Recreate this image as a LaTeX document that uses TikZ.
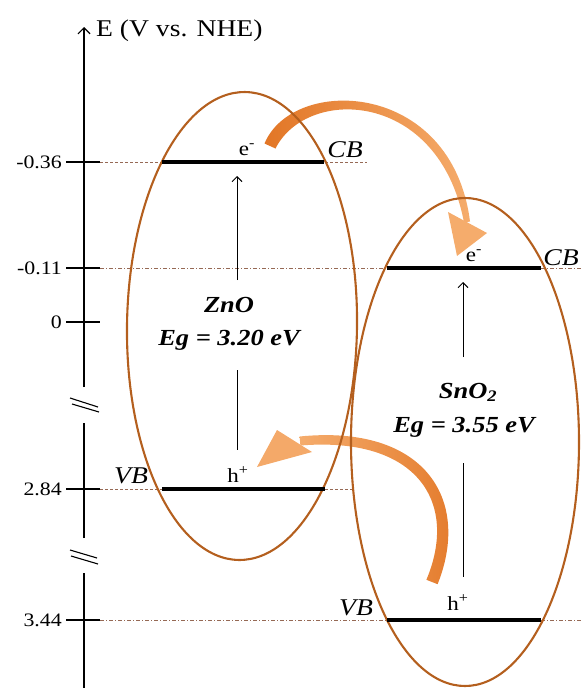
\documentclass[tikz,border=0pt]{standalone}
\usepackage{fontspec}
\setmainfont{Liberation Serif}[FakeStretch=1.15]
\usetikzlibrary{arrows.meta,shapes.geometric}
\definecolor{ellc}{RGB}{180,95,30}
\definecolor{lvl}{RGB}{150,105,85}
\definecolor{ordark}{RGB}{226,118,38}
\definecolor{orlight}{RGB}{245,172,108}
\begin{document}
\begin{tikzpicture}[x=1pt,y=-1pt,
  axisline/.style={line width=1.2pt},
  tickmark/.style={line width=1.1pt},
  breakmark/.style={line width=1.1pt},
  levelband/.style={line width=3.4pt},
  guide/.style={lvl,line width=0.9pt,dash pattern=on 3pt off 2pt},
  guidedot/.style={lvl,line width=0.9pt,dash pattern=on 4pt off 2pt on 1pt off 2pt},
  semi/.style={draw=ellc,line width=2.1pt,ellipse,inner sep=0pt,outer sep=0pt},
  vtrans/.style={line width=1pt},
  vtip/.style={line width=1pt,-{Straight Barb[length=5pt,width=10pt]}},
  ticklbl/.style={font=\fontsize{19}{22}\selectfont,inner sep=0pt,anchor=east},
  bandlbl/.style={font=\fontsize{24}{28}\selectfont\itshape,inner sep=0pt,anchor=base},
  carrier/.style={font=\fontsize{20}{24}\selectfont,inner sep=0pt,anchor=base},
  matlbl/.style={font=\fontsize{23}{27}\selectfont\bfseries\itshape,inner sep=0pt,anchor=base},
]
\useasboundingbox (0,0) rectangle (582,688);

% ---- axis ----
\coordinate (axA) at (84,688);
\coordinate (axB) at (84,573);
\coordinate (axC) at (84,538);
\coordinate (axD) at (84,423);
\coordinate (axE) at (84,387);
\coordinate (axTop) at (84,27);
\draw[axisline] (axA) -- (axB);
\draw[axisline] (axC) -- (axD);
\draw[axisline,-{Straight Barb[length=6pt,width=12pt]}] (axE) -- (axTop);
\node[font=\fontsize{24}{28}\selectfont,inner sep=0pt,anchor=west] (etitle) at (96,31) {E (V vs. NHE)};

% break marks
\coordinate (b1a) at (70,398); \coordinate (b1b) at (98,407);
\coordinate (b1c) at (72,404); \coordinate (b1d) at (99,412);
\coordinate (b2a) at (70,550); \coordinate (b2b) at (97,558);
\coordinate (b2c) at (71,556); \coordinate (b2d) at (98,564);
\draw[breakmark] (b1a) -- (b1b);
\draw[breakmark] (b1c) -- (b1d);
\draw[breakmark] (b2a) -- (b2b);
\draw[breakmark] (b2c) -- (b2d);

% ticks and labels
\foreach \yy/\txt/\nm in {162/-0.36/ta,268/-0.11/tb,322/0/tc,489/2.84/td,620/3.44/te}{
  \coordinate (\nm L) at (66,\yy);
  \coordinate (\nm R) at (100,\yy);
  \draw[tickmark] (\nm L) -- (\nm R);
  \node[ticklbl] (\nm lbl) at (62,\yy) {\txt};
}

% ---- guide lines ----
\coordinate (gaE) at (367,162);
\coordinate (gbE) at (582,268);
\coordinate (gdE) at (352,489);
\coordinate (geE) at (582,620);
\draw[guide] (taR) -- (gaE);
\draw[guidedot] (tbR) -- (gbE);
\draw[guide] (tdR) -- (gdE);
\draw[guidedot] (teR) -- (geE);

% ---- orange transfer arrows (under ellipses) ----
\shade[left color=ordark,right color=orlight]
  (264.5,143.5) .. controls (293,75) and (452,80) .. (470,221.5)
  -- (464,222.5) .. controls (439,90) and (307,86) .. (275.5,148.5) -- cycle;
\coordinate (hA1) at (448,212);
\coordinate (hA2) at (487,233);
\coordinate (hA3) at (457,256);
\fill[orlight] (hA1) -- (hA2) -- (hA3) -- cycle;

\shade[left color=orlight,right color=ordark]
  (437.6,584.2) .. controls (472,498) and (423,424) .. (299.6,436.5)
  -- (300.4,445.5) .. controls (417,436) and (459,502) .. (426.4,579.8) -- cycle;
\coordinate (hB1) at (277,430);
\coordinate (hB2) at (312,452);
\coordinate (hB3) at (257,467);
\fill[orlight!95!ordark] (hB1) -- (hB2) -- (hB3) -- cycle;

% ---- ellipses ----
\node[semi,minimum width=230pt,minimum height=468pt,rotate=-0.8] (zno) at (242,326) {};
\node[semi,minimum width=228pt,minimum height=488pt] (sno) at (465,442) {};

% ---- band levels ----
\coordinate (zcb1) at (162,162); \coordinate (zcb2) at (324,162);
\coordinate (zvb1) at (162,489); \coordinate (zvb2) at (325,489);
\coordinate (scb1) at (387,268); \coordinate (scb2) at (541,268);
\coordinate (svb1) at (387,620); \coordinate (svb2) at (541,620);
\draw[levelband] (zcb1) -- (zcb2);
\draw[levelband] (zvb1) -- (zvb2);
\draw[levelband] (scb1) -- (scb2);
\draw[levelband] (svb1) -- (svb2);

% ---- vertical excitation arrows ----
\coordinate (za1) at (237,280); \coordinate (za2) at (237,176);
\coordinate (za3) at (237,370); \coordinate (za4) at (237,450);
\coordinate (sa1) at (463,357); \coordinate (sa2) at (463,282);
\coordinate (sa3) at (463,463); \coordinate (sa4) at (463,577);
\draw[vtip] (za1) -- (za2);
\draw[vtrans] (za3) -- (za4);
\draw[vtip] (sa1) -- (sa2);
\draw[vtrans] (sa3) -- (sa4);

% ---- labels ----
\node[carrier] (ze) at (247,155) {e\textsuperscript{-}};
\node[carrier] (se) at (474,261) {e\textsuperscript{-}};
\node[carrier] (zh) at (238,482) {h\textsuperscript{+}};
\node[carrier] (sh) at (458,610) {h\textsuperscript{+}};
\node[bandlbl] (zcb) at (345,157) {CB};
\node[bandlbl] (scb) at (561,265) {CB};
\node[bandlbl] (zvb) at (131,483) {VB};
\node[bandlbl] (svb) at (356,615) {VB};
\node[matlbl] (zname) at (229,312) {ZnO};
\node[matlbl] (zeg) at (229,345) {Eg = 3.20 eV};
\node[matlbl] (sname) at (468,398) {SnO\textsubscript{2}};
\node[matlbl] (seg) at (464,432) {Eg = 3.55 eV};
\end{tikzpicture}
\end{document}
